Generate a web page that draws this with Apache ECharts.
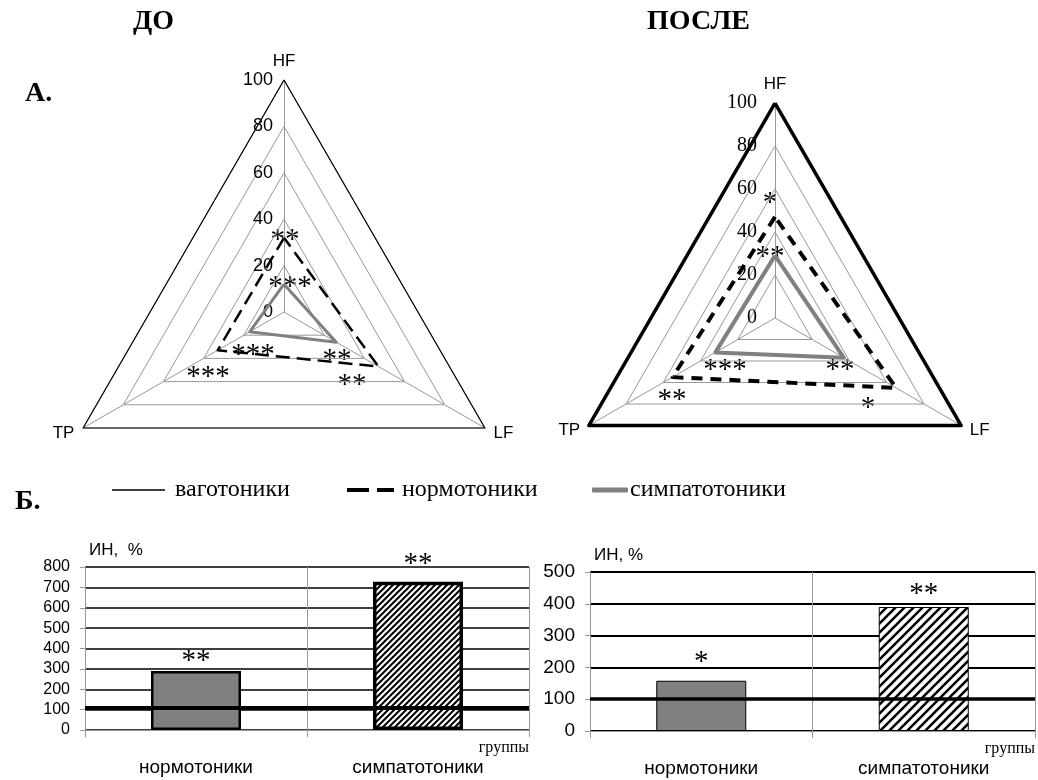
<!DOCTYPE html>
<html><head><meta charset="utf-8">
<script src="https://cdn.jsdelivr.net/npm/echarts@6/dist/echarts.min.js"></script>
<style>html,body{margin:0;padding:0;background:#fff}#c{width:1038px;height:780px}</style>
</head><body><div id="c"></div>
<script>
// ---- data ----
const indicators = ['HF', 'TP', 'LF'];
const groups = ['ваготоники', 'нормотоники', 'симпатотоники'];
// order of values: HF, TP, LF
const beforeVago = [100, 100, 100];
const beforeNormo = [32, 33, 47];
const beforeSymp = [12, 17, 26];
const afterVago = [100, 100, 100];
const afterNormo = [47, 55, 65];
const afterSymp = [29, 32, 37];
const barCategories = ['нормотоники', 'симпатотоники'];
const inBefore = [290, 727];
const inAfter = [158, 390];
const vagoLevelBefore = 110;
const vagoLevelAfter = 100;
const sigBarBefore = ['**', '**'];
const sigBarAfter = ['*', '**'];
const sigRadarBefore = ['**', '***', '***', '***', '**', '**'];
const sigRadarAfter = ['*', '**', '***', '**', '**', '*'];

// ---- helpers ----
function hatch(size, lw) {
  const c = document.createElement('canvas');
  c.width = size; c.height = size;
  const x = c.getContext('2d');
  x.fillStyle = '#fff'; x.fillRect(0, 0, size, size);
  x.strokeStyle = '#000'; x.lineWidth = lw; x.beginPath();
  x.moveTo(0, size); x.lineTo(size, 0);
  x.moveTo(-size / 2, size / 2); x.lineTo(size / 2, -size / 2);
  x.moveTo(size / 2, size * 1.5); x.lineTo(size * 1.5, size / 2);
  x.stroke();
  return c;
}
function radarCfg(center, radius, labelFont, labelSize, labelMargin) {
  return {
    center: center, radius: radius, shape: 'polygon', startAngle: 90, splitNumber: 5,
    indicator: indicators.map(function (n, i) {
      const o = { name: n, min: 0, max: 100 };
      if (i === 0) o.axisLabel = { show: true, color: '#000', fontFamily: labelFont, fontSize: labelSize, margin: labelMargin };
      return o;
    }),
    axisName: { color: '#000', fontSize: 17, fontFamily: 'Liberation Sans' },
    nameGap: 10,
    splitLine: { lineStyle: { color: '#999', width: 1 } },
    splitArea: { show: false },
    axisLine: { lineStyle: { color: '#999', width: 1 } },
    axisTick: { show: false },
    axisLabel: { show: false }
  };
}
function radarSeries(idx, vals, w, dash) {
  return {
    type: 'radar', radarIndex: idx, symbol: 'none', silent: true,
    data: [
      { name: groups[0], value: vals[0], lineStyle: { color: '#000', width: w[0] }, itemStyle: { color: '#000' } },
      { name: groups[1], value: vals[1], lineStyle: { color: '#000', width: w[1], type: dash }, itemStyle: { color: '#000' } },
      { name: groups[2], value: vals[2], lineStyle: { color: '#808080', width: w[2] }, itemStyle: { color: '#808080' } }
    ]
  };
}
function starText(t, x, y, font) {
  return { type: 'text', x: x, y: y + 5, style: { text: t, font: font, fill: '#000', textAlign: 'center', textVerticalAlign: 'middle' } };
}
const starFont = '29px "Liberation Serif"';
const starPosBefore = [[285, 235], [290, 282], [253, 350], [208, 372], [337, 355], [352, 380]];
const starPosAfter = [[770, 198], [770, 252], [725, 365], [840, 365], [672, 395], [868, 403]];
const graphics = [];
sigRadarBefore.forEach(function (t, i) { graphics.push(starText(t, starPosBefore[i][0], starPosBefore[i][1], starFont)); });
sigRadarAfter.forEach(function (t, i) { graphics.push(starText(t, starPosAfter[i][0], starPosAfter[i][1], starFont)); });

function xAxisCfg(grid, labelSize) {
  return {
    type: 'category', gridIndex: grid, data: barCategories,
    axisLine: { lineStyle: { color: '#999' } },
    axisTick: { show: true, length: 7, lineStyle: { color: '#999' } },
    splitLine: { show: true, lineStyle: { color: '#999' } },
    axisLabel: { margin: 28, fontSize: labelSize, color: '#000', fontFamily: 'Liberation Sans' },
    name: 'группы', nameLocation: 'end', nameGap: 0,
    nameTextStyle: { fontFamily: 'Liberation Serif', fontSize: 16, color: '#000', align: 'right', verticalAlign: 'top', padding: [10, 0, 0, 0] }
  };
}
function yAxisCfg(grid, max, labelSize, gridW, name, margin) {
  return {
    type: 'value', gridIndex: grid, min: 0, max: max, interval: 100,
    axisLine: { show: true, lineStyle: { color: '#999' } },
    axisTick: { show: true, length: 5, lineStyle: { color: '#999' } },
    splitLine: { lineStyle: { color: '#000', width: gridW } },
    axisLabel: { fontSize: labelSize, color: '#000', margin: margin, fontFamily: 'Liberation Sans' },
    name: name, nameLocation: 'end', nameGap: 8,
    nameTextStyle: { align: 'left', fontSize: 17, color: '#000', fontFamily: 'Liberation Sans', padding: [0, 0, 0, 4] }
  };
}
function barSeries(idx, vals, sig, grayBorder, hatchBorder, tile, tileLw, lineVal, lineW, dists) {
  return {
    type: 'bar', xAxisIndex: idx, yAxisIndex: idx, barWidth: 90, silent: true,
    data: vals.map(function (v, i) {
      return {
        value: v,
        itemStyle: i === 0 ? { color: '#808080', borderColor: '#000', borderWidth: grayBorder }
          : { color: { image: hatch(tile, tileLw), repeat: 'repeat' }, borderColor: '#000', borderWidth: hatchBorder },
        label: { distance: dists[i] }
      };
    }),
    label: { show: true, position: 'top', formatter: function (p) { return sig[p.dataIndex]; }, fontFamily: 'Liberation Serif', fontSize: 29, color: '#000' },
    markLine: { silent: true, symbol: 'none', label: { show: false }, lineStyle: { color: '#000', width: lineW, type: 'solid' }, data: [{ yAxis: lineVal }] }
  };
}

const chart = echarts.init(document.getElementById('c'), null, { renderer: 'canvas' });
const legendText = { fontFamily: 'Liberation Serif', fontSize: 24, color: '#000' };
chart.setOption({
  animation: false,
  backgroundColor: '#fff',
  title: [
    { text: 'ДО', left: 128, top: 3, textStyle: { fontFamily: 'Liberation Serif', fontWeight: 'bold', fontSize: 28, color: '#000' } },
    { text: 'ПОСЛЕ', left: 642, top: 3, textStyle: { fontFamily: 'Liberation Serif', fontWeight: 'bold', fontSize: 28, color: '#000' } },
    { text: 'А.', left: 20, top: 75, textStyle: { fontFamily: 'Liberation Serif', fontWeight: 'bold', fontSize: 28, color: '#000' } },
    { text: 'Б.', left: 10, top: 483, textStyle: { fontFamily: 'Liberation Serif', fontWeight: 'bold', fontSize: 28, color: '#000' } }
  ],
  legend: [
    { data: [{ name: groups[0], icon: 'rect', itemStyle: { color: '#000', borderWidth: 0 } }], left: 112, top: 478, padding: 0, itemWidth: 53, itemHeight: 1.4, selectedMode: false, textStyle: Object.assign({ padding: [0, 0, 0, 5] }, legendText) },
    { data: [{ name: groups[1], icon: 'path://M0,0H22V4H0Z M30,0H47V4H30Z', itemStyle: { color: '#000', borderWidth: 0 } }], left: 347, top: 478, padding: 0, itemWidth: 47, itemHeight: 4, selectedMode: false, textStyle: Object.assign({ padding: [0, 0, 0, 3] }, legendText) },
    { data: [{ name: groups[2], icon: 'roundRect', itemStyle: { color: '#808080', borderWidth: 0 } }], left: 592, top: 478, padding: 0, itemWidth: 36, itemHeight: 5, selectedMode: false, textStyle: Object.assign({ padding: [6, 0, 0, -3] }, legendText) }
  ],
  radar: [
    radarCfg([284, 312], 232, 'Liberation Sans', 18, 11),
    radarCfg([775, 318], 215, 'Liberation Serif', 20, 18)
  ],
  grid: [
    { left: 85, top: 567, width: 444, height: 163 },
    { left: 590, top: 572, width: 445, height: 159 }
  ],
  xAxis: [xAxisCfg(0, 19), xAxisCfg(1, 19)],
  yAxis: [yAxisCfg(0, 800, 16, 1.5, 'ИН,  %', 15), yAxisCfg(1, 500, 19, 2, 'ИН, %', 15)],
  series: [
    radarSeries(0, [beforeVago, beforeNormo, beforeSymp], [1.2, 2.5, 3], [14, 7]),
    radarSeries(1, [afterVago, afterNormo, afterSymp], [3.5, 4, 4], [11, 8]),
    barSeries(0, inBefore, sigBarBefore, 2.5, 3.5, 6, 2, vagoLevelBefore, 4, [-5, 3]),
    barSeries(1, inAfter, sigBarAfter, 1, 1, 9, 2.5, vagoLevelAfter, 3.5, [4, -2])
  ],
  graphic: graphics
});
</script>
</body></html>
